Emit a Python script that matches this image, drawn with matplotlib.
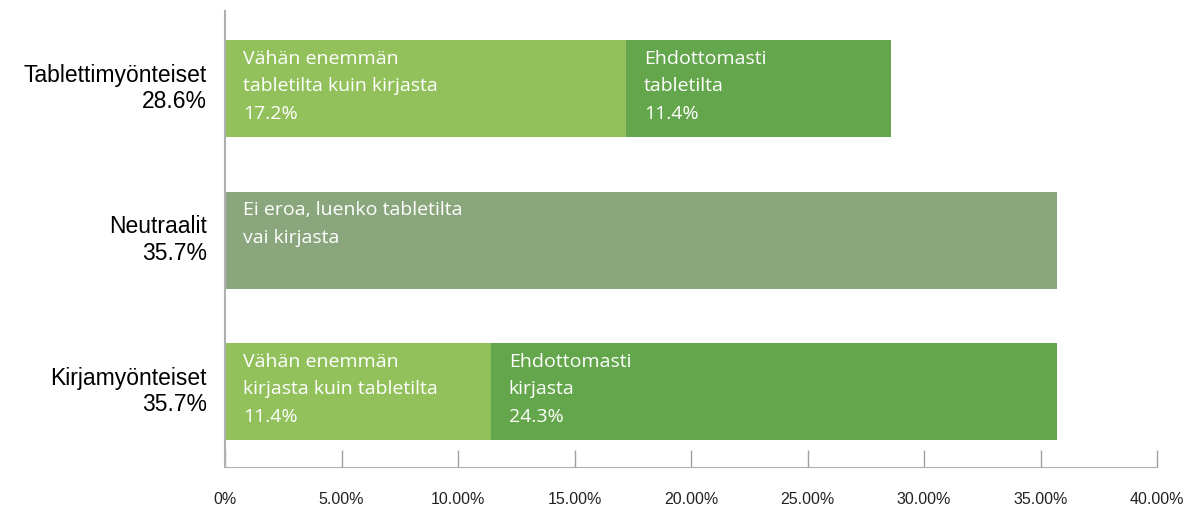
import matplotlib.pyplot as plt
import matplotlib.transforms as mtransforms

categories = ['Kirjamyönteiset\n35.7%', 'Neutraalit\n35.7%', 'Tablettimyönteiset\n28.6%']
first_values = [11.4, 35.7, 17.2]
second_values = [24.3, 0.0, 11.4]
first_labels = ['Vähän enemmän\nkirjasta kuin tabletilta\n11.4%',
                'Ei eroa, luenko tabletilta\nvai kirjasta',
                'Vähän enemmän\ntabletilta kuin kirjasta\n17.2%']
second_labels = ['Ehdottomasti\nkirjasta\n24.3%', '', 'Ehdottomasti\ntabletilta\n11.4%']
first_colors = ['#92c15c', '#8aa67c', '#92c15c']
second_color = '#64a64b'
xticks = [0, 5, 10, 15, 20, 25, 30, 35, 40]
xtick_labels = ['0%', '5.00%', '10.00%', '15.00%', '20.00%', '25.00%', '30.00%', '35.00%', '40.00%']

fig = plt.figure(figsize=(11.94, 5.06), dpi=100)
ax = fig.add_axes([225 / 1194, 38 / 506, 932 / 1194, 456 / 506])

ypos = list(range(len(categories)))
ax.barh(ypos, first_values, height=0.64, color=first_colors)
ax.barh(ypos, second_values, left=first_values, height=0.64, color=second_color)

txt_font = ['Open Sans', 'DejaVu Sans']
for y, v1, v2, l1, l2 in zip(ypos, first_values, second_values, first_labels, second_labels):
    top = y + 0.32
    ax.annotate(l1, (0, top), xytext=(13, -6), textcoords='offset points',
                ha='left', va='top', color='white', fontsize=14,
                family=txt_font, linespacing=1.68)
    if l2:
        ax.annotate(l2, (v1, top), xytext=(13, -6), textcoords='offset points',
                    ha='left', va='top', color='white', fontsize=14,
                    family=txt_font, linespacing=1.68)

ax.set_xlim(0, 40)
ax.set_ylim(-0.497, 2.513)
ax.set_yticks(ypos)
ax.set_yticklabels(categories, family='Liberation Sans', fontsize=16.5,
                   ha='right', linespacing=1.2)
ax.tick_params(axis='y', length=0, pad=13)
shift = mtransforms.ScaledTranslation(0, 4 / 72, fig.dpi_scale_trans)
for lab in ax.get_yticklabels():
    lab.set_transform(lab.get_transform() + shift)
ax.set_xticks(xticks)
ax.set_xticklabels(xtick_labels, family='Liberation Sans', fontsize=11.5, color='#222222')
ax.tick_params(axis='x', direction='in', length=12, width=1, color='#a0a0a0', pad=17)

for side in ['top', 'right']:
    ax.spines[side].set_visible(False)
ax.spines['left'].set_color('#b0b0b0')
ax.spines['bottom'].set_color('#b0b0b0')
ax.spines['left'].set_linewidth(1.5)

fig.savefig('out.png', dpi=100)
